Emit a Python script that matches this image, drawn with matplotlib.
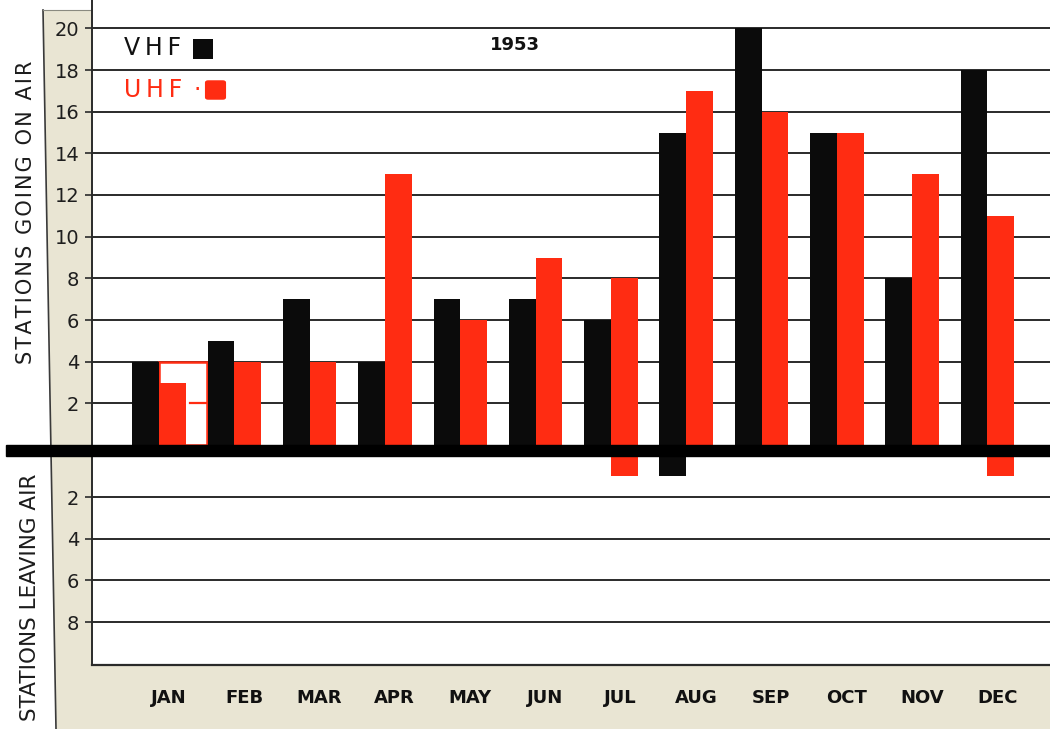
import matplotlib

matplotlib.use("Agg")
import matplotlib.pyplot as plt
from matplotlib.patches import Polygon, Rectangle, FancyBboxPatch
import numpy as np

# Monthly station counts, 1953
months = ["JAN", "FEB", "MAR", "APR", "MAY", "JUN", "JUL", "AUG", "SEP", "OCT", "NOV", "DEC"]
vhf_on = [4, 5, 7, 4, 7, 7, 6, 15, 20, 15, 8, 18]
uhf_on = [3, 4, 4, 13, 6, 9, 8, 17, 16, 15, 13, 11]
vhf_off = [0, 0, 0, 0, 0, 0, 0, 1, 0, 0, 0, 0]
uhf_off = [0, 0, 0, 0, 0, 0, 1, 0, 0, 0, 0, 1]
jan_uhf_box = 4  # outlined box drawn around the January UHF bar

on_ticks = [2, 4, 6, 8, 10, 12, 14, 16, 18, 20]
off_ticks = [2, 4, 6, 8]

W, H = 1050, 729
RED = "#ff2c12"
BLACK = "#0b0b0b"
TAN = "#e9e5d3"
GRID = "#2a2a2a"
GAP = 0.5  # thickness of the zero bar, in data units; "leaving" axis starts below it
HS = "\u200a"  # hair space, used to open up the lettering


def fx(x):
    return x / W


def fy(y):
    return 1 - y / H


def spaced(s, n=1):
    return (HS * n).join(s)


fig = plt.figure(figsize=(W / 100, H / 100), dpi=100)
fig.patch.set_facecolor("white")

# tan frame: left strip for the numbers and bottom band for the months
frame = Polygon(
    [(fx(43), fy(10)), (fx(92), fy(10)), (fx(92), fy(665)), (fx(W), fy(665)),
     (fx(W), fy(H)), (fx(56), fy(H))],
    closed=True, transform=fig.transFigure, facecolor=TAN, edgecolor="none", zorder=-2)
fig.patches.append(frame)
fig.lines.append(plt.Line2D([fx(43), fx(56)], [fy(10), fy(H)], transform=fig.transFigure,
                            color="#3a3a3a", lw=1.2, zorder=-1))
fig.lines.append(plt.Line2D([fx(43), fx(92)], [fy(10), fy(10)], transform=fig.transFigure,
                            color="#8a8a80", lw=0.8, zorder=-1))

ax = fig.add_axes([fx(92), fy(665), fx(W) - fx(92), fy(0) - fy(665)])
ax.set_facecolor("white")
ax.set_xlim(-0.89, 11.83)
ax.set_ylim(-10.56, 21.36)

x = np.arange(len(months))
w = 0.355

# horizontal rules
for v in on_ticks:
    ax.axhline(v, color=GRID, lw=1.4, zorder=1)
for v in off_ticks:
    ax.axhline(-(v + GAP), color=GRID, lw=1.4, zorder=1)

# January UHF: outlined box with the partial fill inside
ax.bar(x[0] + 0.64 / 2, jan_uhf_box, width=0.64, color="white", edgecolor=RED, lw=1.8, zorder=2)
ax.plot([x[0] + 0.41, x[0] + 0.64], [2, 2], color=RED, lw=1.6, zorder=2)

# stations going on air
ax.bar(x - w / 2, vhf_on, width=w, color=BLACK, zorder=3)
ax.bar(x + w / 2, uhf_on, width=w, color=RED, zorder=3)
# stations leaving air (drawn below the zero bar)
ax.bar(x - w / 2, [-v for v in vhf_off], bottom=-GAP, width=w, color=BLACK, zorder=3)
ax.bar(x + w / 2, [-v for v in uhf_off], bottom=-GAP, width=w, color=RED, zorder=3)

# heavy zero bar running out into the margin
ax.axhspan(-GAP - 0.03, 0, xmin=-0.09, xmax=1, color="black", zorder=4, clip_on=False)

# axes styling
for side in ["top", "right"]:
    ax.spines[side].set_visible(False)
ax.spines["left"].set_color(GRID)
ax.spines["bottom"].set_color(GRID)
ax.spines["left"].set_linewidth(1.4)
ax.spines["bottom"].set_linewidth(1.6)

yt = on_ticks + [-(v + GAP) for v in off_ticks]
ax.set_yticks(yt)
ax.set_yticklabels([str(v) for v in on_ticks + off_ticks])
ax.tick_params(axis="y", length=5, width=1.2, color=GRID, pad=4, labelsize=14, labelcolor="#1e1e1e")

ax.set_xticks(x + 0.13)
ax.set_xticklabels(months, fontweight="bold", fontsize=13)
ax.tick_params(axis="x", length=0, pad=17, labelcolor="#111111")

# axis captions in the white margin
fig.text(fx(26), fy(212), spaced("STATIONS GOING ON AIR"), rotation=90, ha="center",
         va="center", fontsize=15, color="#1c1c1c")
fig.text(fx(30), fy(597), "STATIONS LEAVING AIR", rotation=90, ha="center",
         va="center", fontsize=15.5, color="#1c1c1c")

# key and year
fig.text(fx(124), fy(48), spaced("VHF", 2), ha="left", va="center", fontsize=17, color="#111111")
fig.patches.append(Rectangle((fx(193), fy(59)), fx(20), fy(0) - fy(20),
                             transform=fig.transFigure, facecolor=BLACK, edgecolor="none"))
fig.text(fx(124), fy(90), spaced("UHF", 2), ha="left", va="center", fontsize=17, color=RED)
fig.text(fx(197), fy(90), "·", ha="center", va="center", fontsize=17, color=RED)
fig.patches.append(FancyBboxPatch((fx(206), fy(99)), fx(19), fy(0) - fy(18),
                                  boxstyle="round,pad=0.001,rounding_size=0.003",
                                  transform=fig.transFigure, facecolor=RED, edgecolor="none"))
fig.text(fx(515), fy(45), "1953", ha="center", va="center", fontsize=13, fontweight="bold",
         color="#111111")

fig.savefig("out.png", dpi=100)
